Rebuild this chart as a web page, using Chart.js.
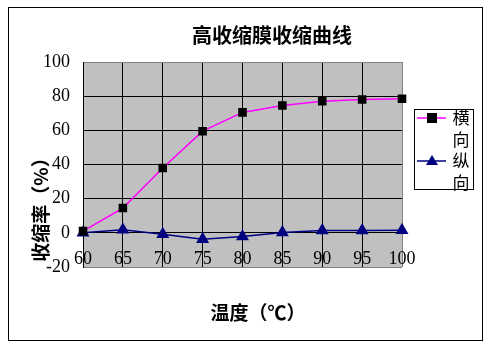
<!DOCTYPE html>
<html>
<head>
<meta charset="utf-8">
<script src="https://cdn.jsdelivr.net/npm/chart.js@4/dist/chart.umd.min.js"></script>
<style>
  html, body { margin: 0; padding: 0; background: #fff; }
  #wrap { width: 495px; height: 347px; position: relative; }
</style>
</head>
<body>
<div id="wrap"><canvas id="shrinkChart" width="495" height="347"></canvas></div>
<script>
// data
const temps = ['60', '65', '70', '75', '80', '85', '90', '95', '100'];
const transverse = [1, 14.5, 38, 59.5, 70.5, 74.5, 77, 78, 78.5];
const longitudinal = [0, 1.8, -0.8, -3.7, -2.2, 0.2, 1.4, 1.4, 1.5];
const yTicks = [-20, 0, 20, 40, 60, 80, 100];

const chartTitle = '高收缩膜收缩曲线';
const xTitle = '温度（℃）';
const yTitle = '收缩率（%）';

const cjk = '"Noto Sans CJK SC", sans-serif';
const serif = '"Liberation Serif", "DejaVu Serif", serif';

// plot background, outer frame, titles and the boxed legend
const decor = {
  id: 'decor',
  beforeDraw(chart) {
    const { ctx, chartArea: a } = chart;
    ctx.save();
    ctx.fillStyle = '#fff';
    ctx.fillRect(0, 0, chart.width, chart.height);
    ctx.fillStyle = '#c0c0c0';
    ctx.fillRect(a.left, a.top, a.right - a.left, a.bottom - a.top);
    ctx.restore();
  },
  afterDraw(chart) {
    const { ctx } = chart;
    ctx.save();
    ctx.strokeStyle = '#000';
    ctx.lineWidth = 1;
    ctx.strokeRect(8.5, 7.5, 474, 333);

    ctx.fillStyle = '#000';
    ctx.textAlign = 'center';
    ctx.textBaseline = 'middle';
    ctx.font = 'bold 20px ' + cjk;
    ctx.fillText(chartTitle, 272, 35);
    ctx.font = 'bold 19px ' + cjk;
    ctx.fillText(xTitle, 258, 313);
    ctx.save();
    ctx.translate(41, 205);
    ctx.rotate(-Math.PI / 2);
    ctx.fillText(yTitle, 0, 0);
    ctx.restore();

    // legend
    ctx.fillStyle = '#fff';
    ctx.fillRect(414, 109, 59, 80);
    ctx.strokeRect(414.5, 109.5, 59, 80);
    const rows = [118, 161];
    chart.data.datasets.forEach((ds, i) => {
      const y = rows[i];
      ctx.strokeStyle = ds.borderColor;
      ctx.lineWidth = 1.5;
      ctx.beginPath();
      ctx.moveTo(417, y);
      ctx.lineTo(446, y);
      ctx.stroke();
      ctx.fillStyle = ds.pointBackgroundColor;
      if (ds.pointStyle === 'rect') {
        ctx.fillRect(427, y - 5, 10, 10);
      } else {
        ctx.beginPath();
        ctx.moveTo(432, y - 6);
        ctx.lineTo(438, y + 4);
        ctx.lineTo(426, y + 4);
        ctx.closePath();
        ctx.fill();
      }
      ctx.fillStyle = '#000';
      ctx.font = '17px ' + cjk;
      const chars = ds.label.split('');
      ctx.fillText(chars[0], 461, y);
      ctx.fillText(chars[1], 461, y + 22);
    });
    ctx.restore();
  }
};

new Chart(document.getElementById('shrinkChart'), {
  type: 'line',
  data: {
    labels: temps,
    datasets: [{
      label: '横向',
      data: transverse,
      borderColor: '#ff00ff',
      borderWidth: 1.5,
      pointStyle: 'rect',
      pointRadius: 5,
      pointBackgroundColor: '#000',
      pointBorderColor: '#000',
      tension: 0
    }, {
      label: '纵向',
      data: longitudinal,
      borderColor: '#000080',
      borderWidth: 1.5,
      pointStyle: 'triangle',
      pointRadius: 6,
      pointBackgroundColor: '#000080',
      pointBorderColor: '#000080',
      tension: 0
    }]
  },
  options: {
    responsive: false,
    animation: false,
    layout: { padding: { left: 0, right: 93, top: 62, bottom: 80 } },
    plugins: { legend: { display: false }, tooltip: { enabled: false } },
    scales: {
      x: {
        position: { y: 0 },
        offset: false,
        grid: {
          color: ctx => ctx.index === temps.length - 1 ? '#808080' : '#000',
          drawTicks: false,
          lineWidth: 1
        },
        border: { display: true, color: '#000', width: 1 },
        ticks: {
          color: '#000',
          font: { family: serif, size: 18 },
          padding: 16,
          maxRotation: 0,
          autoSkip: false
        }
      },
      y: {
        min: -20,
        max: 100,
        afterFit: s => { s.width = 83; },
        afterBuildTicks: s => { s.ticks = yTicks.map(v => ({ value: v })); },
        grid: {
          color: ctx => (ctx.tick && (ctx.tick.value === 100 || ctx.tick.value === -20)) ? '#808080' : '#000',
          drawTicks: false,
          lineWidth: 1
        },
        border: { display: true, color: '#000', width: 1 },
        ticks: {
          color: '#000',
          font: { family: serif, size: 18 },
          padding: 13
        }
      }
    }
  },
  plugins: [decor]
});
</script>
</body>
</html>
